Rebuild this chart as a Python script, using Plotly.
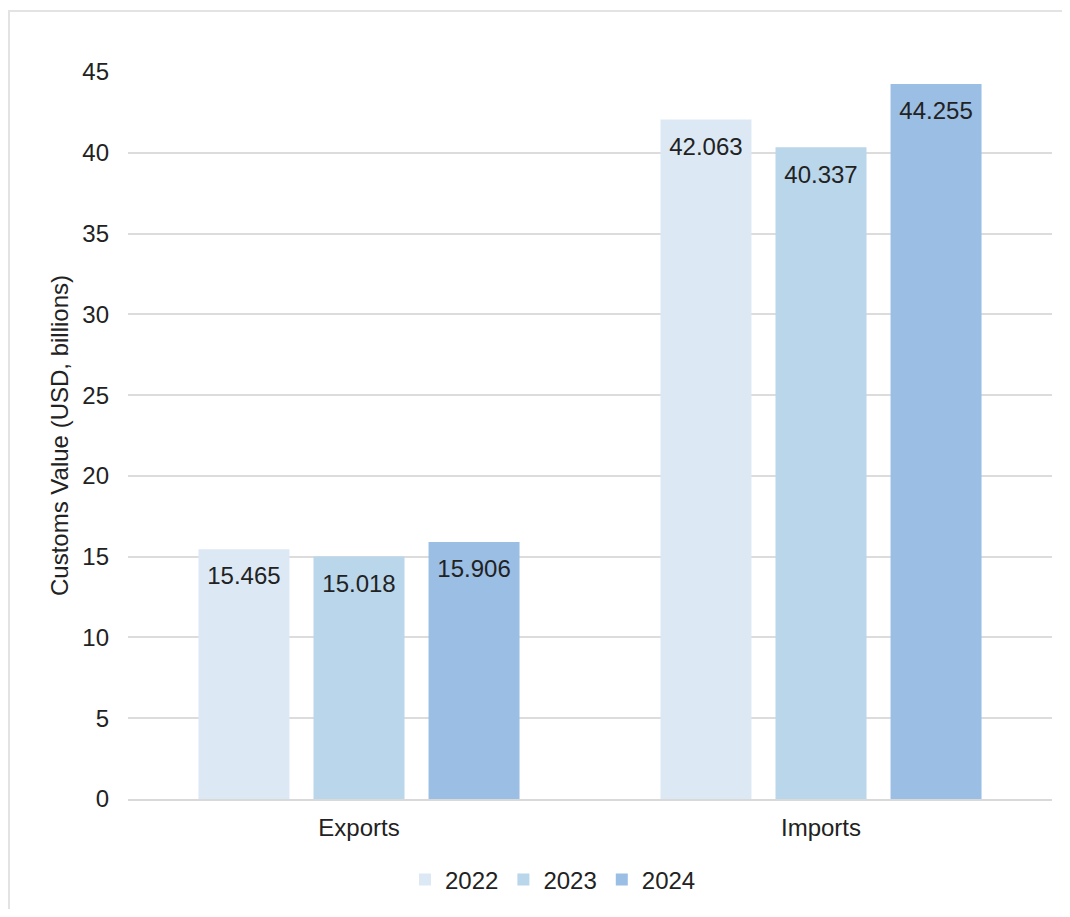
import plotly.graph_objects as go

categories = ["Exports", "Imports"]
years = ["2022", "2023", "2024"]
values_2022 = [15.465, 42.063]
values_2023 = [15.018, 40.337]
values_2024 = [15.906, 44.255]
y_ticks = [0, 5, 10, 15, 20, 25, 30, 35, 40, 45]

series = [values_2022, values_2023, values_2024]
colors = ["#dce9f5", "#b9d6eb", "#9bbee4"]

FONT = "Liberation Sans, Arial, Helvetica, sans-serif"
FS = 24

fig = go.Figure()
for yr, vals, col in zip(years, series, colors):
    fig.add_trace(go.Bar(
        name=yr, x=categories, y=vals, offsetgroup=yr,
        marker=dict(color=col, line=dict(width=0)),
        hoverinfo="x+y+name",
    ))
for yr, vals in zip(years, series):
    fig.add_trace(go.Scatter(
        x=categories, y=vals, offsetgroup=yr, mode="markers+text",
        text=[f"{v:.3f}" for v in vals], textposition="bottom center",
        textfont=dict(family=FONT, size=FS, color="#222222"),
        marker=dict(size=26, color="rgba(0,0,0,0)"),
        showlegend=False, hoverinfo="skip", cliponaxis=False,
    ))

W, H = 1054, 901
L, R, T, B = 120, 10, 64, 110
pw, ph = W - L - R, H - T - B

def px_x(X):
    return (X - L) / pw

def px_y(Y):
    return (H - B - Y) / ph

fig.update_layout(
    width=W, height=H,
    margin=dict(l=L, r=R, t=T, b=B, autoexpand=False),
    barmode="group", bargap=0.253, bargroupgap=0.209,
    scattermode="group", scattergap=0.253,
    plot_bgcolor="white", paper_bgcolor="white",
    font=dict(family=FONT, size=FS, color="#222222"),
    legend=dict(orientation="h", x=px_x(545), xanchor="center",
                y=px_y(872), yanchor="middle",
                font=dict(size=FS, color="#222222"),
                itemwidth=30, traceorder="normal"),
    shapes=[dict(type="rect", xref="paper", yref="paper",
                 x0=px_x(1), x1=px_x(1100), y0=px_y(1000), y1=px_y(3),
                 line=dict(color="#e3e3e3", width=2), fillcolor="rgba(0,0,0,0)",
                 layer="below")],
)
fig.update_xaxes(showgrid=False, showline=True, linecolor="#d9d9d9", linewidth=1.5,
                 ticks="", tickfont=dict(size=FS, color="#222222"),
                 ticklabelstandoff=6)
fig.update_yaxes(range=[0, 45], tickvals=y_ticks, showgrid=True, gridcolor="#dcdcdc",
                 gridwidth=1.5, zeroline=False, showline=False, ticks="",
                 tickfont=dict(size=FS, color="#222222"), ticklabelstandoff=18,
                 title=dict(text="Customs Value (USD, billions)",
                            font=dict(size=FS, color="#222222"), standoff=6))

fig.write_html("out.html")
